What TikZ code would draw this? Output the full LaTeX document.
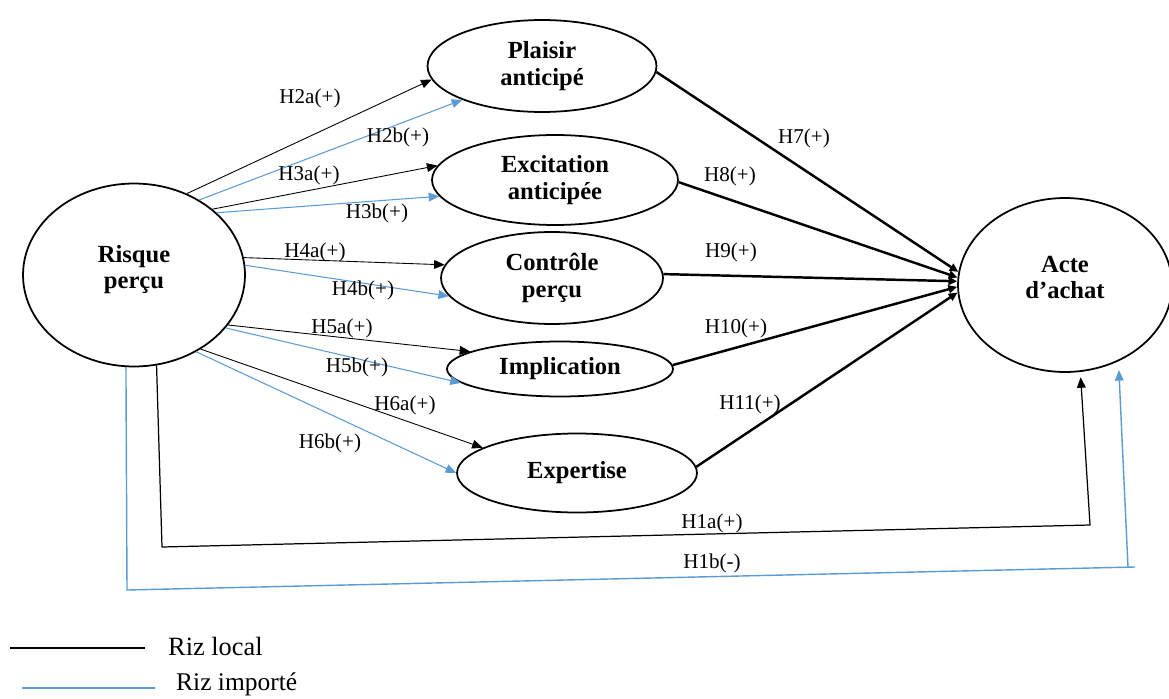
\documentclass[tikz,border=0pt]{standalone}
\usepackage{fontspec}
\setmainfont{Liberation Serif}
\usetikzlibrary{arrows.meta, shapes.geometric}
\definecolor{rizbleu}{RGB}{91,155,213}

\begin{document}
\begin{tikzpicture}[x = .02cm, y = -.02cm,
	var/.style = {draw, line width = 1pt, shape = ellipse, inner sep = 0pt, align = center, font = \bfseries\fontsize{14}{15}\selectfont},
	local/.style = {draw = black, line width = .5pt, -{Triangle[length = 6pt, width = 5pt]}},
	importe/.style = {draw = rizbleu, line width = .6pt, -{Triangle[length = 6pt, width = 5pt]}},
	effet/.style = {draw = black, line width = 1.4pt, -{Triangle[length = 5pt, width = 4.5pt]}},
	hyp/.style = {font = \fontsize{12}{14}\selectfont, inner sep = 0pt}]
	\useasboundingbox (0, 0) rectangle (1169, 699);
	% variables
	\node[var, minimum width = 4.44cm, minimum height = 3.66cm] (risque) at (134, 275) {Risque\\perçu\vphantom{p}\\[-6pt]};
	\node[var, minimum width = 4.58cm, minimum height = 1.84cm] (plaisir) at (542, 66) {Plaisir\\anticipé};
	\node[var, minimum width = 4.92cm, minimum height = 1.8cm] (excitation) at (555, 180) {Excitation\\anticipée};
	\node[var, minimum width = 4.44cm, minimum height = 1.84cm] (controle) at (552, 278) {Contrôle\\perçu};
	\node[var, minimum width = 4.52cm, minimum height = 1.1cm] (implication) at (560, 369) {Implication};
	\node[var, minimum width = 4.8cm, minimum height = 1.58cm] (expertise) at (577, 473) {Expertise};
	\node[var, minimum width = 4.28cm, minimum height = 3.48cm] (acte) at (1065, 285) {Acte\\d’achat\\[-6pt]};
	% risque percu -> mediateurs
	\foreach \a/\cible/\b in {57/plaisir/187, 40/excitation/173, 9/controle/173, -28/implication/169, -48/expertise/165}{
		\draw[local] (risque.\a) -- (\cible.\b);}
	\foreach \a/\cible/\b in {49/plaisir/203, 37/excitation/188, 5/controle/190, -30/implication/188, -51/expertise/180}{
		\draw[importe] (risque.\a) -- (\cible.\b);}
	% mediateurs -> acte d'achat
	\foreach \source/\a/\b in {plaisir/-3.5/173, excitation/-1.5/176, controle/2.5/178, implication/2/181, expertise/3/184}{
		\draw[effet] (\source.\a) -- (acte.\b);}
	% effets directs
	\coordinate (h1aA) at (162, 547);
	\coordinate (h1aB) at (1090, 525);
	\coordinate (h1bA) at (127, 590);
	\coordinate (h1bB) at (1128, 567);
	\coordinate (h1bC) at (1135, 567);
	\draw[local, line width = .7pt, shorten >= 3pt] (risque.-76) -- (h1aA) -- (h1aB) -- (acte.-80);
	\draw[rizbleu, line width = .8pt] (risque.-95) -- (h1bA) -- (h1bC);
	\draw[importe, line width = .8pt, shorten >= 5pt] (h1bB) -- (acte.-55);
	% etiquettes
	\foreach \nom/\x/\y in {2a/310/98, 2b/398/137, 3a/309/175, 3b/377/213, 4a/315/252, 4b/363/290, 5a/342/328, 5b/357/367, 6a/405/405, 6b/330/443, 7/804/138, 8/730/176, 9/731/252, 10/736/328, 11/750/404, 1a/712/523}{
		\node[hyp] (hyp\nom) at (\x, \y) {H\nom(+)};}
	\node[hyp] (hyp1b) at (712, 563) {H1b(-)};
	% legende
	\draw[black, line width = .7pt] (10, 648) -- (145, 648);
	\node[anchor = west, font = \fontsize{15}{17}\selectfont] (riz local) at (162, 646) {Riz local};
	\draw[rizbleu, line width = .9pt] (22, 688) -- (155, 688);
	\node[anchor = west, font = \fontsize{14.5}{17}\selectfont] (riz importe) at (170, 684) {Riz importé};
\end{tikzpicture}
\end{document}
